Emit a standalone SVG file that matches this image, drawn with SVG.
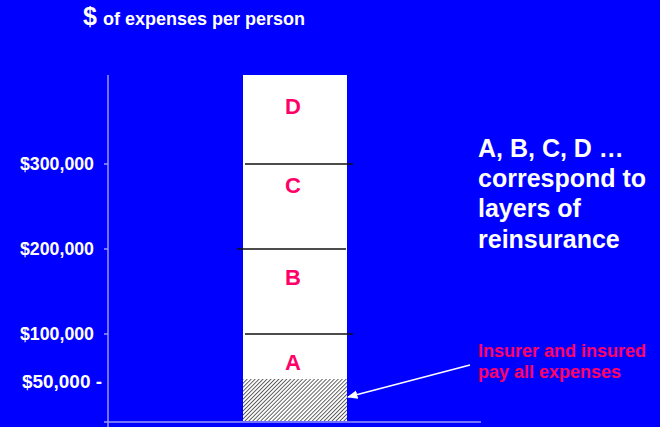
<svg xmlns="http://www.w3.org/2000/svg" width="660" height="427" viewBox="0 0 660 427">
<defs>
<style>
.ax{stroke:#9999ff;stroke-width:1.5;fill:none}
.lbl{font-family:"Liberation Sans",Arial,sans-serif;font-weight:bold;fill:#ffffff}
.lay{font-family:"Liberation Sans",Arial,sans-serif;font-weight:bold;fill:#ff0066;font-size:22px;text-anchor:middle}
.sep{stroke:#111111;stroke-width:1.3}
</style>
<pattern id="hatch" width="2.8" height="2.8" patternUnits="userSpaceOnUse" patternTransform="rotate(45)">
<rect width="2.8" height="2.8" fill="#ffffff"/>
<line x1="0" y1="0" x2="0" y2="2.8" stroke="#222222" stroke-width="1.4"/>
</pattern>
<marker id="arr" viewBox="0 0 10 10" refX="9" refY="5" markerWidth="7" markerHeight="7" orient="auto">
<path d="M0,1 L10,5 L0,9 Z" fill="#ffffff"/>
</marker>
</defs>
<rect width="660" height="427" fill="#0000ff"/>
<g id="title">
<text class="lbl" x="83" y="25" font-size="25">$</text>
<text class="lbl" x="103" y="25" font-size="18">of expenses per person</text>
</g>
<g id="axes">
<line class="ax" x1="108" y1="75" x2="108" y2="427"/>
<line class="ax" x1="104" y1="422" x2="481" y2="422"/>
<line class="ax" x1="104" y1="164" x2="108" y2="164"/>
<line class="ax" x1="104" y1="249" x2="108" y2="249"/>
<line class="ax" x1="104" y1="334" x2="108" y2="334"/>
</g>
<g id="ylabels">
<text class="lbl" x="94" y="170" font-size="17.5" text-anchor="end" textLength="74" lengthAdjust="spacingAndGlyphs">$300,000</text>
<text class="lbl" x="94" y="255" font-size="17.5" text-anchor="end" textLength="74" lengthAdjust="spacingAndGlyphs">$200,000</text>
<text class="lbl" x="94" y="340" font-size="17.5" text-anchor="end" textLength="74" lengthAdjust="spacingAndGlyphs">$100,000</text>
<text class="lbl" x="102" y="388" font-size="17.5" text-anchor="end" textLength="80" lengthAdjust="spacingAndGlyphs">$50,000 -</text>
</g>
<g id="bar">
<rect x="243" y="75" width="104" height="346" fill="#ffffff"/>
<rect x="243" y="379" width="104" height="42" fill="url(#hatch)"/>
<line class="sep" x1="245" y1="164" x2="353" y2="164"/>
<line class="sep" x1="237" y1="249" x2="346" y2="249"/>
<line class="sep" x1="245" y1="334" x2="353" y2="334"/>
</g>
<g id="layer-D"><text class="lay" x="293" y="114">D</text></g>
<g id="layer-C"><text class="lay" x="293" y="193">C</text></g>
<g id="layer-B"><text class="lay" x="293" y="285">B</text></g>
<g id="layer-A"><text class="lay" x="293" y="370">A</text></g>
<g id="note-right">
<text class="lbl" font-size="25"><tspan x="478" y="157">A, B, C, D …</tspan><tspan x="478" y="187">correspond to</tspan><tspan x="478" y="217">layers of</tspan><tspan x="478" y="248">reinsurance</tspan></text>
</g>
<g id="note-insurer">
<text font-family="Liberation Sans,Arial,sans-serif" font-weight="bold" font-size="18" fill="#ff0066"><tspan x="478" y="357">Insurer and insured</tspan><tspan x="478" y="378">pay all expenses</tspan></text>
</g>
<g id="connectors">
<line x1="470" y1="365" x2="348" y2="397" stroke="#ffffff" stroke-width="1.5" marker-end="url(#arr)"/>
</g>
</svg>
